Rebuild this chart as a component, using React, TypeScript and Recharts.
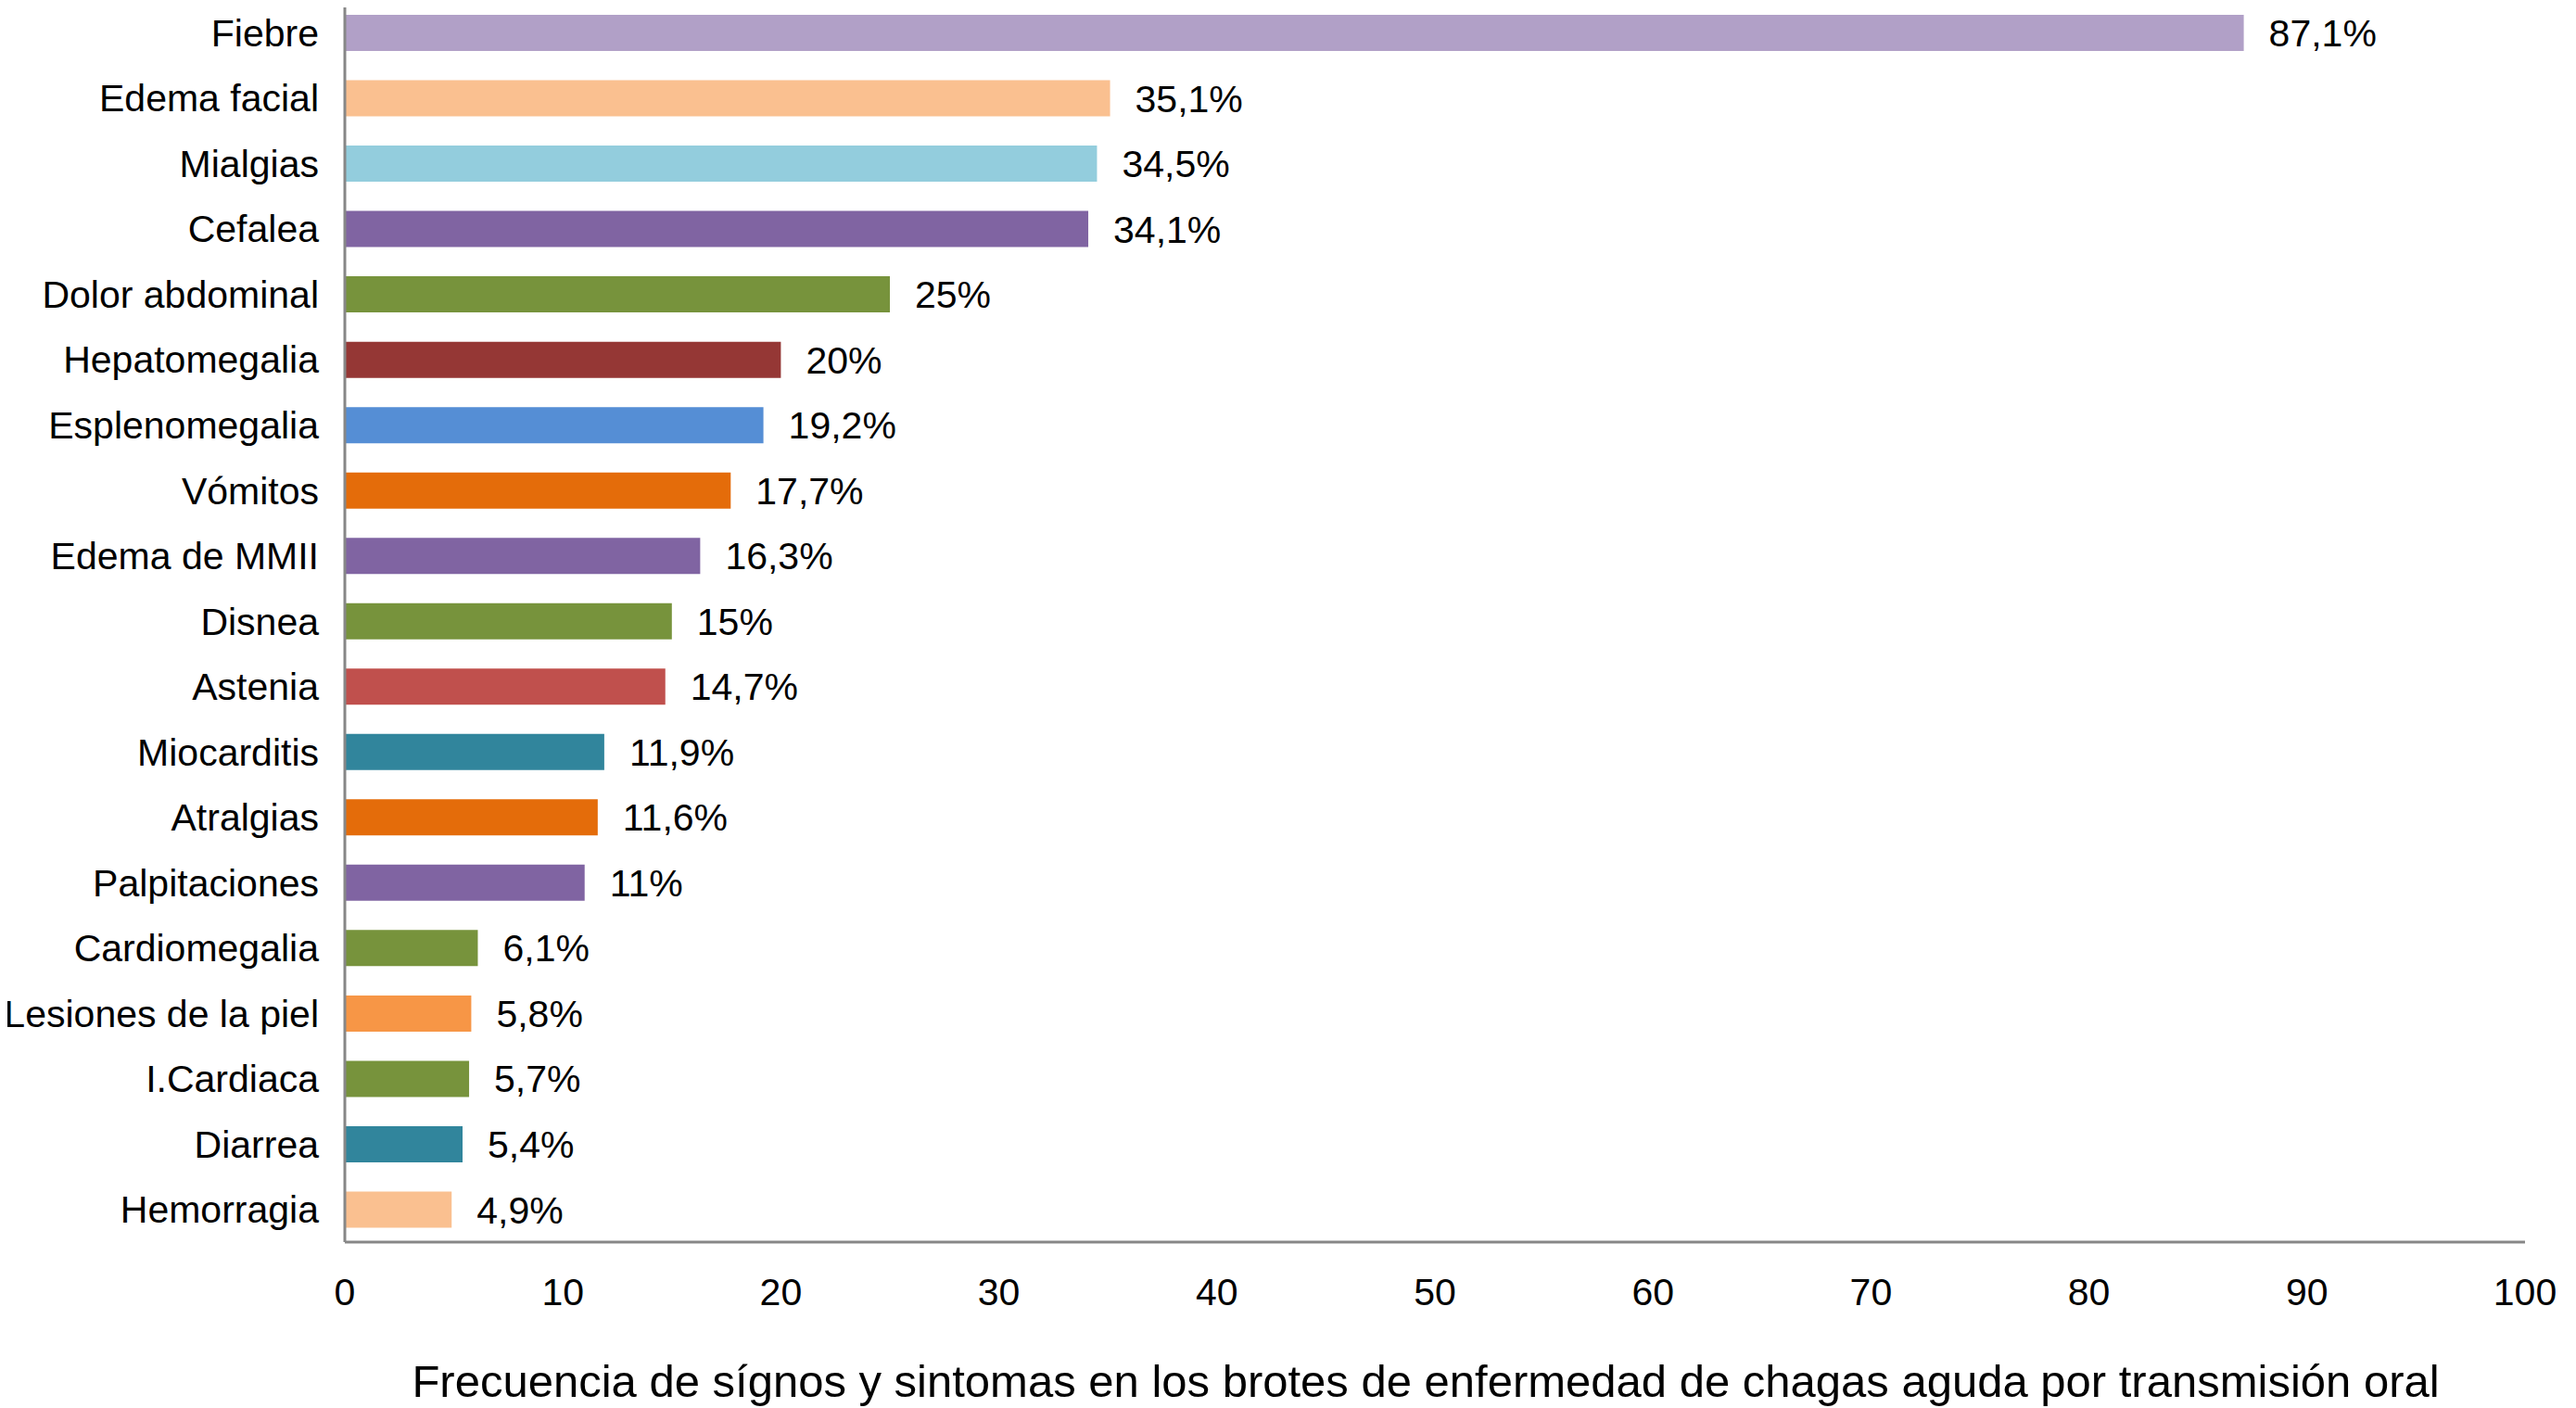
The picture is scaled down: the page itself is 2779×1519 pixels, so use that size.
import { BarChart, Bar, XAxis, YAxis, Cell, LabelList, Label } from "recharts";

const symptoms = [
  "Fiebre",
  "Edema facial",
  "Mialgias",
  "Cefalea",
  "Dolor abdominal",
  "Hepatomegalia",
  "Esplenomegalia",
  "Vómitos",
  "Edema de MMII",
  "Disnea",
  "Astenia",
  "Miocarditis",
  "Atralgias",
  "Palpitaciones",
  "Cardiomegalia",
  "Lesiones de la piel",
  "I.Cardiaca",
  "Diarrea",
  "Hemorragia",
];

const percents = [
  87.1, 35.1, 34.5, 34.1, 25, 20, 19.2, 17.7, 16.3, 15, 14.7, 11.9, 11.6, 11,
  6.1, 5.8, 5.7, 5.4, 4.9,
];

const barColors = [
  "#B1A0C7",
  "#FAC090",
  "#93CDDD",
  "#8064A2",
  "#77933C",
  "#953735",
  "#558ED5",
  "#E46C0A",
  "#8064A2",
  "#77933C",
  "#C0504D",
  "#31859C",
  "#E46C0A",
  "#8064A2",
  "#77933C",
  "#F79646",
  "#77933C",
  "#31859C",
  "#FAC090",
];

const xTicks = [0, 10, 20, 30, 40, 50, 60, 70, 80, 90, 100];

const data = symptoms.map((name, i) => ({ name, value: percents[i] }));

const FONT = "'Liberation Sans', Arial, Helvetica, sans-serif";

const fmt = (v: any) => String(v).replace(".", ",") + "%";

export default function App() {
  return (
    <div style={{ margin: "-8px 0 0 -8px", background: "#fff", width: 2779, height: 1519 }}>
      <BarChart
        width={2779}
        height={1519}
        data={data}
        layout="vertical"
        margin={{ top: 0, right: 55, left: 0, bottom: 0 }}
        style={{ fontFamily: FONT }}
      >
        <XAxis
          type="number"
          domain={[0, 100]}
          ticks={xTicks}
          height={179}
          tickSize={0}
          tickMargin={39}
          tickLine={false}
          axisLine={{ stroke: "#878787", strokeWidth: 3 }}
          tick={{ fill: "#000", fontSize: 41, fontFamily: FONT }}
        >
          <Label
            value="Frecuencia de sígnos y sintomas en los brotes de enfermedad de chagas aguda por transmisión oral"
            position="insideBottom"
            offset={12}
            dx={-10}
            style={{ fill: "#000", fontSize: 49, fontFamily: FONT }}
          />
        </XAxis>
        <YAxis
          type="category"
          dataKey="name"
          width={372}
          tickSize={0}
          tickMargin={28}
          tickLine={false}
          interval={0}
          axisLine={{ stroke: "#878787", strokeWidth: 3 }}
          tick={{ fill: "#000", fontSize: 41, fontFamily: FONT }}
        />
        <Bar dataKey="value" barSize={39} isAnimationActive={false}>
          {data.map((d, i) => (
            <Cell key={d.name} fill={barColors[i]} />
          ))}
          <LabelList
            dataKey="value"
            position="right"
            offset={27}
            formatter={fmt}
            style={{ fill: "#000", fontSize: 41, fontFamily: FONT }}
          />
        </Bar>
      </BarChart>
    </div>
  );
}
